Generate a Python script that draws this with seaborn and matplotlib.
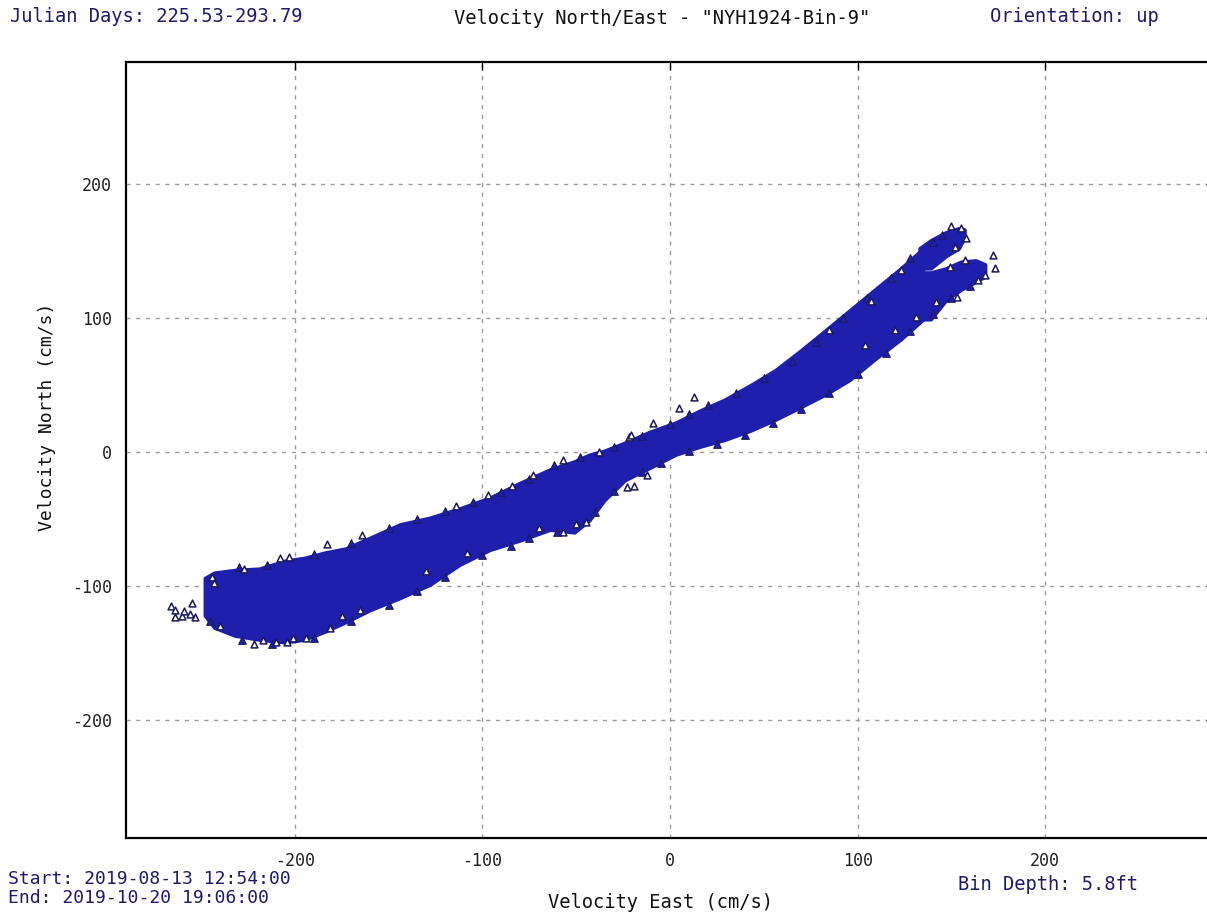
import matplotlib
matplotlib.use("Agg")
import matplotlib.pyplot as plt
import seaborn as sns
import pandas as pd

# Envelope of the dense main band of velocity samples (cm/s)
band_east = [-248, -243, -232, -219, -205, -195, -184, -173, -160, -144, -128, -112,
             -96, -80, -64, -51, -43, -35, -24, -11, 3, 16, 29, 43, 56, 69, 83, 96,
             109, 123, 135]
band_north_lo = [-122, -131, -137, -140, -142, -140, -134, -127, -118, -109, -99, -84,
                 -73, -66, -58, -60, -51, -36, -21, -12, -2, 4, 9, 16, 24, 33, 43, 54,
                 69, 84, 99]
band_north_hi = [-94, -90, -88, -87, -81, -79, -75, -72, -64, -54, -49, -42,
                 -34, -23, -13, -7, -2, 1, 7, 15, 22, 31, 39, 50, 61, 75, 91, 106,
                 121, 137, 152]

# Upper (flood) arm beyond the split
upper_east = [133, 139, 147, 154, 157]
upper_lo = [137, 137, 146, 152, 160]
upper_hi = [152, 158, 164, 167, 166]

# Lower arm beyond the split
lower_east = [133, 139, 147, 155, 163, 168]
lower_lo = [99, 99, 113, 121, 127, 131]
lower_hi = [134, 134, 137, 142, 143, 140]

# Samples along the ragged rim of the cloud
rim_east = [-230, -215, -190, -170, -150, -135, -120, -105, -90, -75, -62, -48, -30,
            -15, 0, 10, 20, 35, 50, 65, 78, 92, 105, 118, 128, 140, 145,
            -245, -228, -212, -190, -170, -150, -135, -120, -100, -85, -75, -60,
            -40, -30, -15, -5, 10, 25, 40, 55, 70, 85, 100, 115, 128, 140, 150, 160]
rim_north = [-86, -84, -76, -68, -57, -50, -44, -37, -30, -20, -10, -4, 4,
             12, 21, 28, 35, 44, 55, 68, 82, 100, 115, 130, 145, 157, 162,
             -126, -140, -143, -139, -126, -114, -104, -93, -77, -70, -64, -60,
             -45, -29, -15, -8, 1, 6, 13, 22, 32, 44, 58, 74, 90, 103, 115, 124]

# Individual samples on the fringe of the cloud
edge_east = [-266, -264, -264, -260, -259, -255, -253, -256, -244, -243, -240, -227,
             -208, -203, -183, -164, -222, -217, -210, -204, -201, -194, -181, -175,
             -165, -130, -108, -114, -97, -84, -73, -70, -57, -57, -50, -45, -38,
             -23, -22, -21, -19, -12, -9, 5, 13, 85, 104, 107, 120, 123, 131, 142,
             149, 150, 152, 153, 155, 157, 158, 164, 168, 172, 173]
edge_north = [-115, -118, -123, -122, -119, -113, -123, -121, -93, -98, -130, -87,
              -79, -78, -69, -62, -143, -140, -142, -142, -139, -139, -131, -122,
              -118, -89, -75, -40, -32, -25, -17, -57, -60, -6, -54, -52, 0,
              -26, 11, 13, -25, -17, 22, 33, 41, 91, 80, 113, 91, 136, 101, 112,
              138, 169, 153, 116, 167, 143, 160, 128, 132, 147, 137]

x_ticks = [-200, -100, 0, 100, 200]
y_ticks = [-200, -100, 0, 100, 200]

sns.set_theme(style="white")
plt.rcParams["font.family"] = ["DejaVu Sans Mono", "DejaVu Sans"]

fig = plt.figure(figsize=(12.07, 9.23), dpi=100)
fig.patch.set_facecolor("white")
ax = fig.add_axes([126 / 1207, 85 / 923, 1088 / 1207, 776 / 923])
ax.set_facecolor("white")

cloud = "#1f1fae"
ax.fill_between(band_east, band_north_lo, band_north_hi, color=cloud, lw=2.5,
                edgecolor=cloud, zorder=3)
ax.fill_between(upper_east, upper_lo, upper_hi, color=cloud, lw=2.5,
                edgecolor=cloud, zorder=3)
ax.fill_between(lower_east, lower_lo, lower_hi, color=cloud, lw=2.5,
                edgecolor=cloud, zorder=3)

rim = pd.DataFrame({"east": rim_east, "north": rim_north})
sns.scatterplot(data=rim, x="east", y="north", ax=ax, marker="^", s=30,
                color=cloud, edgecolor="#1a1a5a", linewidth=0.8, zorder=3.5)

edges = pd.DataFrame({"east": edge_east, "north": edge_north})
sns.scatterplot(data=edges, x="east", y="north", ax=ax, marker="^", s=24,
                facecolor="white", edgecolor="#1a1a5a", linewidth=1.1, zorder=4)

ax.set_xlim(-290, 290)
ax.set_ylim(-288, 291)
ax.set_xticks(x_ticks)
ax.set_yticks(y_ticks)
ax.set_xticklabels([str(v) for v in x_ticks])
ax.set_yticklabels([str(v) for v in y_ticks])
ax.tick_params(axis="both", direction="in", length=6, width=1, colors="black",
               labelsize=12, pad=10, labelcolor="#222222", top=True, right=True)
ax.grid(True, color="#9a9a9a", linestyle=(0, (3, 4)), linewidth=1.0, zorder=1)
for side in ax.spines.values():
    side.set_color("black")
    side.set_linewidth(1.6)
ax.set_xlabel("")
ax.set_ylabel("")

navy = "#1c1c6a"
fig.text(10 / 1207, 1 - 16 / 923, "Julian Days: 225.53-293.79", fontsize=13.5,
         color=navy, ha="left", va="center")
fig.text(662 / 1207, 1 - 18 / 923, 'Velocity North/East - "NYH1924-Bin-9"',
         fontsize=13.5, color="#111111", ha="center", va="center")
fig.text(990 / 1207, 1 - 16 / 923, "Orientation: up", fontsize=13.5,
         color=navy, ha="left", va="center")
fig.text(8 / 1207, 1 - 879 / 923, "Start: 2019-08-13 12:54:00", fontsize=13,
         color=navy, ha="left", va="center")
fig.text(8 / 1207, 1 - 898 / 923, "End: 2019-10-20 19:06:00", fontsize=13,
         color=navy, ha="left", va="center")
fig.text(958 / 1207, 1 - 884 / 923, "Bin Depth: 5.8ft", fontsize=13.5,
         color=navy, ha="left", va="center")
fig.text(660 / 1207, 1 - 902 / 923, "Velocity East (cm/s)", fontsize=13.5,
         color="#111111", ha="center", va="center")
fig.text(47 / 1207, 1 - 417 / 923, "Velocity North (cm/s)", fontsize=13,
         color="#111111", ha="center", va="center", rotation=90)

fig.savefig("out.png", dpi=100, facecolor="white")
